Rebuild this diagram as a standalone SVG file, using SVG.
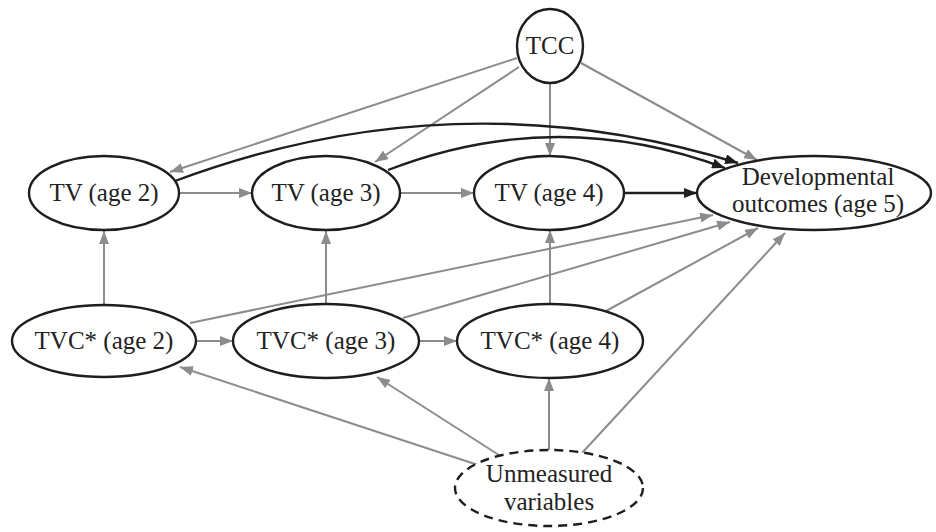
<svg xmlns="http://www.w3.org/2000/svg" width="936" height="532" viewBox="0 0 936 532">
<style>
.node{fill:#fff;stroke:#1e1e1e;stroke-width:2.4}
.dash{stroke-dasharray:9 6}
.lbl{font-family:"Liberation Serif","Times New Roman",serif;font-size:25px;fill:#222;text-anchor:middle}
.g{fill:none;stroke:#8c8c8c;stroke-width:2;marker-end:url(#ag)}
.b{fill:none;stroke:#1e1e1e;stroke-width:2.4;marker-end:url(#ab)}
</style>
<defs>
<marker id="ag" markerUnits="userSpaceOnUse" markerWidth="14" markerHeight="10" refX="13" refY="5" orient="auto"><path d="M0,0 L13,5 L0,10 Z" fill="#8c8c8c"/></marker>
<marker id="ab" markerUnits="userSpaceOnUse" markerWidth="14" markerHeight="10" refX="13" refY="5" orient="auto"><path d="M0,0 L13,5 L0,10 Z" fill="#1e1e1e"/></marker>
</defs>
<rect width="936" height="532" fill="#fff"/>
<g id="connectors">
<line class="g" x1="517" y1="58" x2="170" y2="172"/>
<line class="g" x1="519" y1="67" x2="375" y2="162"/>
<line class="g" x1="550" y1="83" x2="550" y2="156"/>
<line class="g" x1="581" y1="63" x2="757" y2="160"/>
<path class="b" d="M175,181 Q456,76 738,163"/>
<path class="b" d="M388,170 Q556,105 725,168"/>
<line class="b" x1="625" y1="193" x2="697" y2="193"/>
<line class="g" x1="180" y1="193" x2="252" y2="193"/>
<line class="g" x1="401" y1="193" x2="474" y2="193"/>
<line class="g" x1="104" y1="305" x2="104" y2="231"/>
<line class="g" x1="326" y1="304" x2="326" y2="231"/>
<line class="g" x1="550" y1="304" x2="550" y2="230"/>
<line class="g" x1="197" y1="341" x2="233" y2="341"/>
<line class="g" x1="420" y1="341" x2="457" y2="341"/>
<line class="g" x1="190" y1="323" x2="713" y2="215"/>
<line class="g" x1="403" y1="318" x2="730" y2="222"/>
<line class="g" x1="606" y1="311" x2="758" y2="228"/>
<line class="g" x1="582" y1="453" x2="785" y2="233"/>
<line class="g" x1="478" y1="465" x2="180" y2="367"/>
<line class="g" x1="502" y1="457" x2="377" y2="377"/>
<line class="g" x1="549" y1="451" x2="549" y2="378"/>
</g>
<g id="tcc"><ellipse class="node" cx="550" cy="46" rx="33" ry="37"/><text class="lbl" x="550" y="54">TCC</text></g>
<g id="tv2"><ellipse class="node" cx="104" cy="193" rx="75" ry="37"/><text class="lbl" x="104" y="201">TV (age 2)</text></g>
<g id="tv3"><ellipse class="node" cx="326" cy="193" rx="74" ry="37"/><text class="lbl" x="326" y="201">TV (age 3)</text></g>
<g id="tv4"><ellipse class="node" cx="549" cy="193" rx="75" ry="37"/><text class="lbl" x="549" y="201">TV (age 4)</text></g>
<g id="dev"><ellipse class="node" cx="814" cy="193" rx="117" ry="37"/><text class="lbl" x="818" y="185">Developmental</text><text class="lbl" x="818" y="212">outcomes (age 5)</text></g>
<g id="tvc2"><ellipse class="node" cx="104" cy="341" rx="92" ry="36"/><text class="lbl" x="104" y="349">TVC* (age 2)</text></g>
<g id="tvc3"><ellipse class="node" cx="326" cy="341" rx="93" ry="37"/><text class="lbl" x="326" y="349">TVC* (age 3)</text></g>
<g id="tvc4"><ellipse class="node" cx="550" cy="341" rx="93" ry="37"/><text class="lbl" x="550" y="349">TVC* (age 4)</text></g>
<g id="unmeasured"><ellipse class="node dash" cx="549" cy="488" rx="94" ry="38"/><text class="lbl" x="549" y="482">Unmeasured</text><text class="lbl" x="549" y="510">variables</text></g>
</svg>
